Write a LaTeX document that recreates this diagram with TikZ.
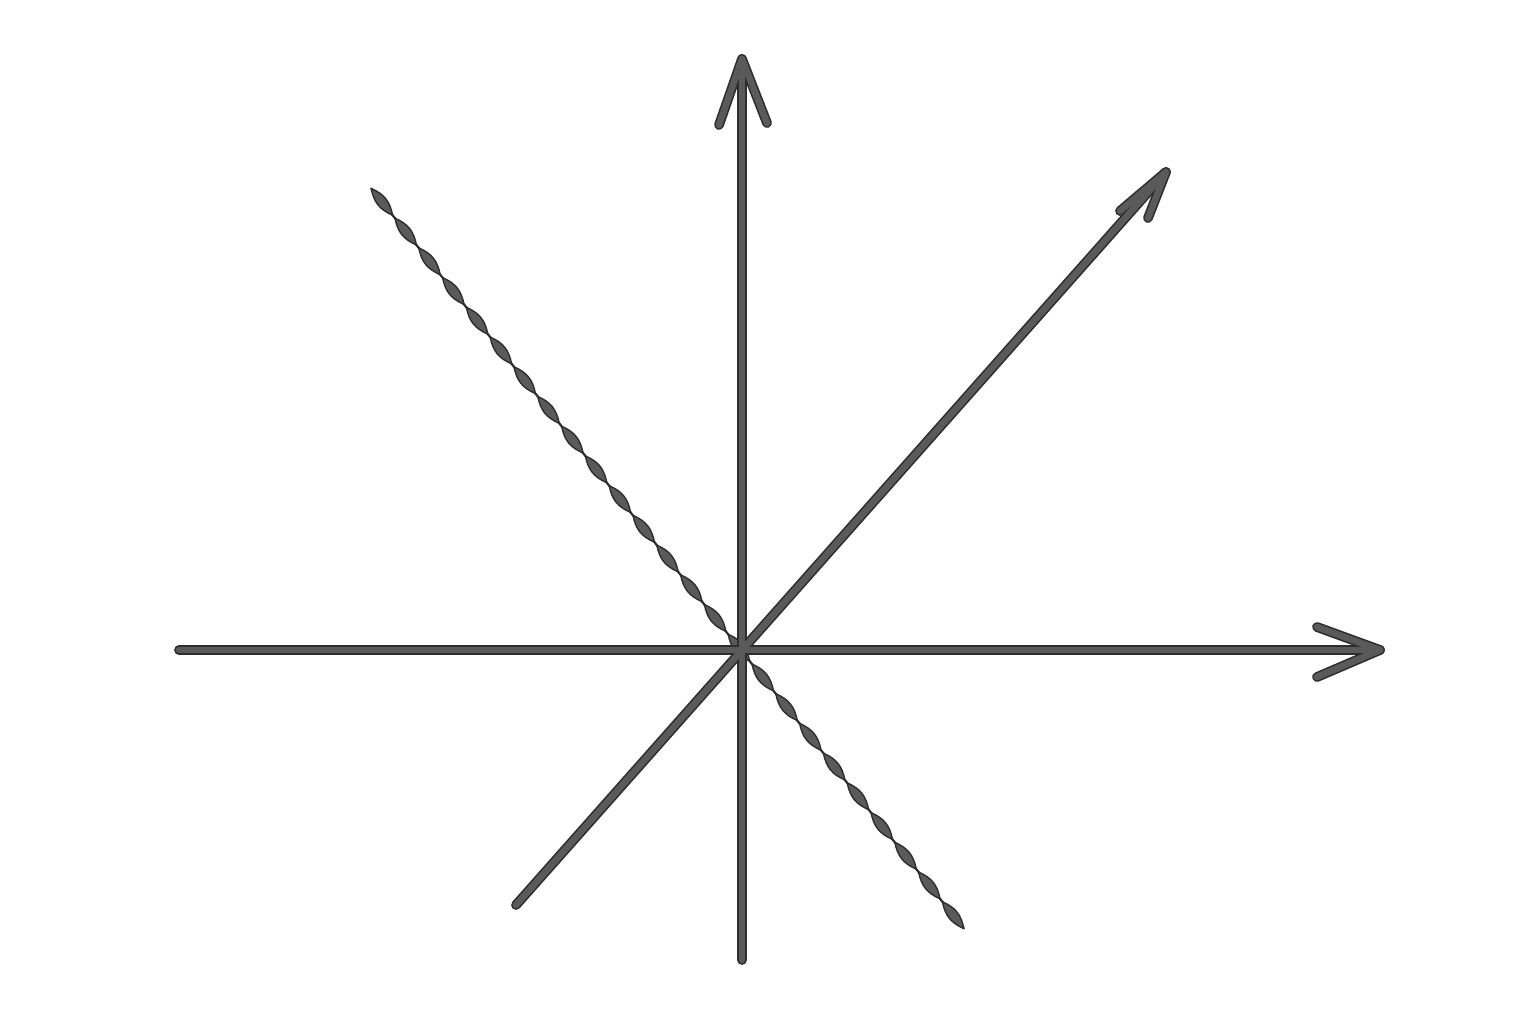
\documentclass[tikz,border=0pt]{standalone}
\usetikzlibrary{calc}
\definecolor{ink}{HTML}{5A5A5A}
\definecolor{edge}{HTML}{2E2E2E}
\begin{document}
\begin{tikzpicture}[x=0.01cm,y=-0.01cm,
  axisout/.style={draw=edge,line width=0.098cm,line cap=round,line join=round},
  axisin/.style={draw=ink,line width=0.066cm,line cap=round,line join=round},
  lens/.style={fill=ink,draw=edge,line width=0.014cm,line join=round},
  neck/.style={draw=edge,line width=0.022cm,line cap=round}]
\useasboundingbox (0,0) rectangle (1536,1024);
\coordinate (O) at (742,650);
\coordinate (xs) at (179,650); \coordinate (xe) at (1380,650);
\coordinate (xb1) at (1317,627); \coordinate (xb2) at (1317,677);
\coordinate (ys) at (742,960); \coordinate (ye) at (742,59);
\coordinate (yb1) at (719,125); \coordinate (yb2) at (767,123);
\coordinate (zs) at (516,905); \coordinate (ze) at (1166,172);
\coordinate (zb1) at (1120,211); \coordinate (zb2) at (1148,218);
\coordinate (ws) at (370,187); \coordinate (we) at (965,930);
% twisted line
\begin{scope}[shift={(ws)}, x=0.01cm, y=0.01cm, rotate=-51.31]
  \coordinate (wa) at (2,0);
  \coordinate (wb) at (950,0);
  \draw[neck] (wa) -- (wb);
  \foreach \i in {0,...,24}{
    \pgfmathsetmacro\ta{(\i+0.05)*38.08}
    \pgfmathsetmacro\tb{(\i+0.38)*38.08}
    \pgfmathsetmacro\tc{(\i+0.62)*38.08}
    \pgfmathsetmacro\td{(\i+0.95)*38.08}
    \path[lens] (\ta,0) .. controls (\tb,6.6) and (\tc,6.6) .. (\td,0)
       .. controls (\tc,-6.6) and (\tb,-6.6) .. cycle;
  }
\end{scope}
% axes
\foreach \s in {axisout,axisin}{
  \draw[\s] (xs) -- (xe);
  \draw[\s] (xb1) -- (xe) -- (xb2);
  \draw[\s] (ys) -- (ye);
  \draw[\s] (yb1) -- (ye) -- (yb2);
  \draw[\s] (zs) -- (ze);
  \draw[\s] (zb1) -- (ze) -- (zb2);
}
\end{tikzpicture}
\end{document}
